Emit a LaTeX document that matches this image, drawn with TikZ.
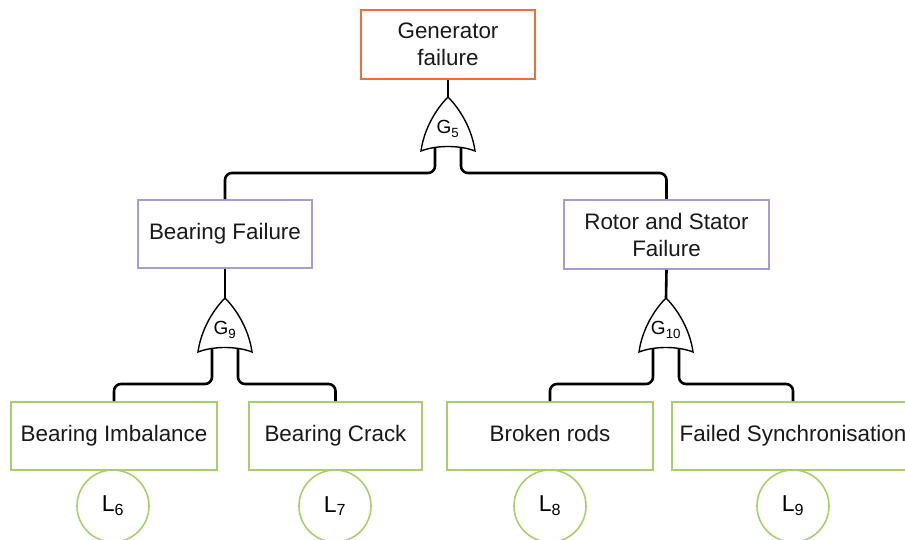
\documentclass[tikz,border=0pt]{standalone}
\usepackage{fontspec}
\setmainfont{Liberation Sans}
\usepackage{xcolor}
\usetikzlibrary{positioning,calc}

\definecolor{topor}{HTML}{F26B38}
\definecolor{midlil}{HTML}{A99BD3}
\definecolor{leafgr}{HTML}{A8D06A}

\tikzset{
  event/.style={draw, line width=1.6pt, inner sep=2pt, align=center,
    font=\fontsize{22.4}{27}\selectfont, text=black!90},
  leaf/.style={event, draw=leafgr, minimum height=68pt, text height=16pt, text depth=4.5pt},
  conn/.style={line width=2.6pt, rounded corners=7pt},
  gate/.style={draw, fill=white, line width=1.4pt},
  leafcirc/.style={circle, draw=leafgr, line width=1.6pt, minimum size=72pt,
    inner sep=0pt, font=\fontsize{23}{27}\selectfont},
  orgate/.pic={
    \draw[gate] (0,0) .. controls (-12,12) and (-24,32) .. (-27,54)
      .. controls (-12,48) and (12,48) .. (27,54)
      .. controls (24,32) and (12,12) .. (0,0) -- cycle;
    \coordinate (-top) at (0,0);
    \coordinate (-l) at (-13,51);
    \coordinate (-r) at (13,51);
    \node[font=\fontsize{19}{22}\selectfont] at (0,32) {#1};
  }
}

\begin{document}
\begin{tikzpicture}[x=1pt,y=-1pt]
\useasboundingbox (0,0) rectangle (905,540);
\clip (0,0) rectangle (905,540);

% Top event
\node[event, draw=topor, minimum width=174pt, minimum height=69pt] (gen) at (448,44.5) {Generator\\failure};
\pic (g5) at (448,97) {orgate={G\textsubscript{5}}};

% Intermediate events
\node[event, draw=midlil, minimum width=174pt, minimum height=68pt] (bf) at (225,234) {Bearing Failure};
\node[event, draw=midlil, minimum width=205pt, minimum height=69pt] (rs) at (666.5,234.5) {Rotor and Stator\\Failure};
\pic (g9) at (225,298) {orgate={G\textsubscript{9}}};
\pic (g10) at (666,298) {orgate={G\textsubscript{10}}};

% Basic events
\node[leaf, minimum width=206pt] (bi) at (114,436) {Bearing Imbalance};
\node[leaf, minimum width=173pt] (bc) at (335.5,436) {Bearing Crack};
\node[leaf, minimum width=206pt] (br) at (550,436) {Broken rods};
\node[leaf, minimum width=242pt] (fs) at (793,436) {Failed Synchronisation};

\node[leafcirc] (l6) at (113,506) {L\textsubscript{6}};
\node[leafcirc] (l7) at (335,506) {L\textsubscript{7}};
\node[leafcirc] (l8) at (550,506) {L\textsubscript{8}};
\node[leafcirc] (l9) at (793,506) {L\textsubscript{9}};

% Bus levels under the gates
\coordinate (bus5) at (0,173);
\coordinate (bus9) at (0,384);
\coordinate (bus10) at (0,384);

% Connectors
\draw[conn] (gen.south) -- (g5-top);
\draw[conn] (g5-l) -- (g5-l |- bus5) -| (bf.north);
\draw[conn] (g5-r) -- (g5-r |- bus5) -| (rs.north);

\draw[conn] (bf.south) -- (g9-top);
\draw[conn] (g9-l) -- (g9-l |- bus9) -| (bi.north);
\draw[conn] (g9-r) -- (g9-r |- bus9) -| (bc.north);

\draw[conn] (rs.south) -- (g10-top);
\draw[conn] (g10-l) -- (g10-l |- bus10) -| (br.north);
\draw[conn] (g10-r) -- (g10-r |- bus10) -| (fs.north);

\end{tikzpicture}
\end{document}
